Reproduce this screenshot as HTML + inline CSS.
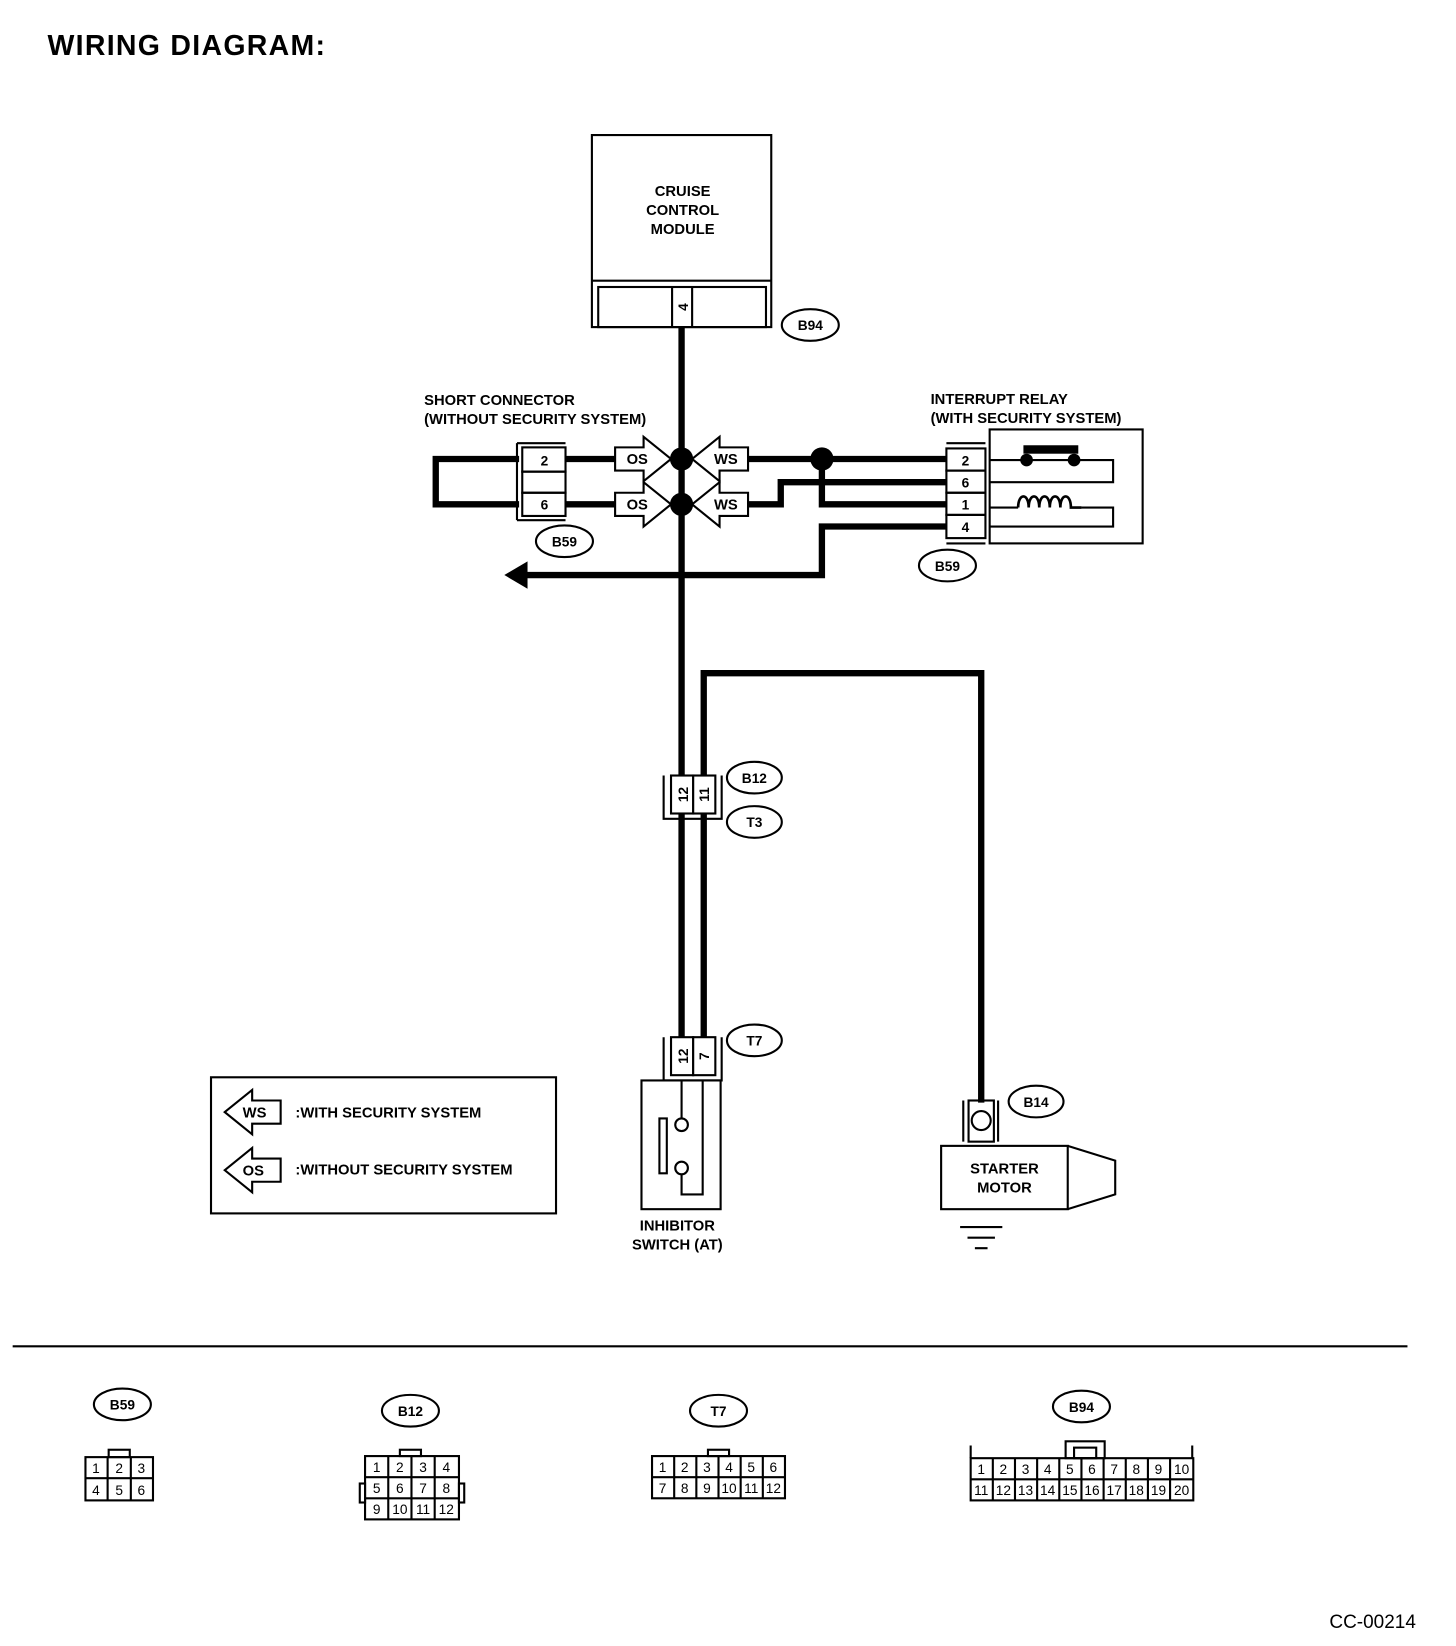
<!DOCTYPE html>
<html><head><style>html,body{margin:0;padding:0;background:#fff}svg{display:block}</style></head><body>
<svg width="1456" height="1646" viewBox="0 0 1380 1560" preserveAspectRatio="none" xmlns="http://www.w3.org/2000/svg" font-family="Liberation Sans, sans-serif">
<defs>
<g id="ar"><path d="M0,0 L26,-21 L26,-11 L53,-11 L53,11 L26,11 L26,21 Z" fill="#fff" stroke="#000" stroke-width="2"/></g>
</defs>
<text x="45" y="52" font-size="27" font-weight="bold" textLength="263">WIRING DIAGRAM:</text>
<g fill="none" stroke="#000" stroke-width="2">
<rect x="561" y="128" width="170" height="182"/>
<line x1="561" y1="266" x2="731" y2="266"/>
<rect x="567" y="272" width="159" height="38"/>
<line x1="637" y1="272" x2="637" y2="310"/><line x1="656" y1="272" x2="656" y2="310"/>
<ellipse cx="768" cy="308" rx="27" ry="15"/>
</g>
<g font-size="14" font-weight="bold" text-anchor="middle">
<text x="647" y="186">CRUISE</text><text x="647" y="204">CONTROL</text><text x="647" y="222">MODULE</text>
</g>
<text transform="translate(647,291) rotate(-90)" x="0" y="5" font-size="13" font-weight="bold" text-anchor="middle">4</text>
<text x="768" y="313" font-size="13" font-weight="bold" text-anchor="middle">B94</text>
<!-- wires -->
<g fill="none" stroke="#000" stroke-width="6">
<line x1="646" y1="310" x2="646" y2="985"/>
<polyline points="667,985 667,638 930,638 930,1045"/>
<polyline points="492,435 413,435 413,478 492,478"/>
<line x1="536" y1="435" x2="590" y2="435"/><line x1="536" y1="478" x2="590" y2="478"/>
<line x1="700" y1="435" x2="897" y2="435"/>
<polyline points="700,478 740,478 740,457 897,457"/>
<polyline points="779,435 779,478 897,478"/>
<polyline points="897,499 779,499 779,545 495,545"/>
</g>
<path d="M478,545 L500,532 L500,558 Z"/>
<circle cx="646" cy="435" r="11"/><circle cx="646" cy="478" r="11"/><circle cx="779" cy="435" r="11"/>
<!-- arrows -->
<use href="#ar" transform="translate(636,435) scale(-1,1)"/>
<use href="#ar" transform="translate(636,478) scale(-1,1)"/>
<use href="#ar" transform="translate(656,435)"/>
<use href="#ar" transform="translate(656,478)"/>
<g font-size="14" font-weight="bold" text-anchor="middle">
<text x="604" y="440">OS</text><text x="604" y="483">OS</text>
<text x="688" y="440">WS</text><text x="688" y="483">WS</text>
</g>
<!-- short connector -->
<g fill="none" stroke="#000" stroke-width="2">
<path d="M490,420 L490,493 M490,420 L536,420 M490,493 L536,493"/>
<rect x="495" y="424" width="41" height="23"/><rect x="495" y="447" width="41" height="20"/><rect x="495" y="467" width="41" height="22"/>
<ellipse cx="535" cy="513" rx="27" ry="15"/>
<ellipse cx="898" cy="536" rx="27" ry="15"/>
<path d="M934,420 L897,420 M934,515 L897,515"/>
<rect x="897" y="425" width="37" height="21"/><rect x="897" y="446" width="37" height="21"/><rect x="897" y="467" width="37" height="21"/><rect x="897" y="488" width="37" height="22"/>
<rect x="938" y="407" width="145" height="108"/>
<polyline points="938,436 1055,436 1055,457 938,457"/>
<path d="M938,481 L965,481 M1025,481 L1055,481 L1055,499 L938,499"/>
<path d="M965,481 c0,-14 10,-14 10,0 c0,-14 10,-14 10,0 c0,-14 10,-14 10,0 c0,-14 10,-14 10,0 c0,-14 10,-14 10,0 l10,0" stroke-width="2.5"/>
</g>
<rect x="970" y="422" width="52" height="8"/>
<circle cx="973" cy="436" r="6"/><circle cx="1018" cy="436" r="6"/>
<g font-size="13" font-weight="bold" text-anchor="middle">
<text x="516" y="441">2</text><text x="516" y="483">6</text>
<text x="915" y="441">2</text><text x="915" y="462">6</text><text x="915" y="483">1</text><text x="915" y="504">4</text>
<text x="535" y="518">B59</text><text x="898" y="541">B59</text>
</g>
<g font-size="14" font-weight="bold">
<text x="402" y="384">SHORT CONNECTOR</text><text x="402" y="402">(WITHOUT SECURITY SYSTEM)</text>
<text x="882" y="383">INTERRUPT RELAY</text><text x="882" y="401">(WITH SECURITY SYSTEM)</text>
</g>
<!-- B12/T3 -->
<g fill="none" stroke="#000" stroke-width="2">
<path d="M629,735 L629,776 L684,776 L684,735"/>
<rect x="636" y="735" width="21" height="36" fill="#fff"/><rect x="657" y="735" width="21" height="36" fill="#fff"/>
<ellipse cx="715" cy="737" rx="26" ry="15"/><ellipse cx="715" cy="779" rx="26" ry="15"/>
<path d="M629,983 L629,1024 L684,1024 L684,983"/>
<rect x="636" y="983" width="21" height="36" fill="#fff"/><rect x="657" y="983" width="21" height="36" fill="#fff"/>
<ellipse cx="715" cy="986" rx="26" ry="15"/>
<rect x="608" y="1024" width="75" height="122"/>
<line x1="646" y1="1024" x2="646" y2="1060"/>
<circle cx="646" cy="1066" r="6"/><circle cx="646" cy="1107" r="6"/>
<polyline points="646,1113 646,1132 666,1132 666,1024"/>
<rect x="625" y="1060" width="7" height="52"/>
<path d="M913,1082 L913,1043 M946,1043 L946,1082"/>
<rect x="918" y="1043" width="24" height="39"/>
<circle cx="930" cy="1062" r="9"/>
<ellipse cx="982" cy="1044" rx="26" ry="15"/>
<rect x="892" y="1086" width="120" height="60"/>
<polyline points="1012,1086 1057,1100 1057,1132 1012,1146"/>
<path d="M910,1163 L950,1163 M917,1173 L943,1173 M924,1183 L936,1183"/>
<rect x="200" y="1021" width="327" height="129"/>
</g>
<g font-size="13" font-weight="bold" text-anchor="middle">
<text transform="translate(647,753) rotate(-90)" x="0" y="5">12</text><text transform="translate(667,753) rotate(-90)" x="0" y="5">11</text>
<text transform="translate(647,1001) rotate(-90)" x="0" y="5">12</text><text transform="translate(667,1001) rotate(-90)" x="0" y="5">7</text>
<text x="715" y="742">B12</text><text x="715" y="784">T3</text><text x="715" y="991">T7</text><text x="982" y="1049">B14</text>
</g>
<g font-size="14" font-weight="bold" text-anchor="middle">
<text x="642" y="1166">INHIBITOR</text><text x="642" y="1184">SWITCH (AT)</text>
<text x="952" y="1112">STARTER</text><text x="952" y="1130">MOTOR</text>
</g>
<use href="#ar" transform="translate(213,1054)"/>
<use href="#ar" transform="translate(213,1109)"/>
<g font-size="14" font-weight="bold">
<text x="230" y="1059">WS</text><text x="230" y="1114">OS</text>
<text x="280" y="1059">:WITH SECURITY SYSTEM</text><text x="280" y="1113">:WITHOUT SECURITY SYSTEM</text>
</g>
<line x1="12" y1="1276" x2="1334" y2="1276" stroke="#000" stroke-width="2"/>
<!-- bottom connectors -->
<g fill="none" stroke="#000" stroke-width="2">
<ellipse cx="116" cy="1331" rx="27" ry="15"/><ellipse cx="389" cy="1337" rx="27" ry="15"/>
<ellipse cx="681" cy="1337" rx="27" ry="15"/><ellipse cx="1025" cy="1333" rx="27" ry="15"/>
<rect x="103" y="1374" width="20" height="7"/>
<rect x="81" y="1381" width="64" height="41"/><path d="M81,1401 H145 M102,1381 V1422 M124,1381 V1422"/>
<rect x="379" y="1374" width="20" height="6"/>
<rect x="346" y="1380" width="89" height="60"/><path d="M346,1400 H435 M346,1420 H435 M368,1380 V1440 M390,1380 V1440 M412,1380 V1440"/>
<rect x="341" y="1406" width="5" height="18"/><rect x="435" y="1406" width="5" height="18"/>
<rect x="671" y="1374" width="20" height="6"/>
<rect x="618" y="1380" width="126" height="40"/><path d="M618,1400 H744 M639,1380 V1420 M660,1380 V1420 M681,1380 V1420 M702,1380 V1420 M723,1380 V1420"/>
<rect x="1010" y="1366" width="37" height="16"/><rect x="1018" y="1372" width="21" height="10"/>
<path d="M920,1382 V1370 M1130,1382 V1370"/>
<rect x="920" y="1382" width="211" height="40"/><path d="M920,1402 H1131 M941,1382 V1422 M962,1382 V1422 M983,1382 V1422 M1004,1382 V1422 M1025,1382 V1422 M1046,1382 V1422 M1067,1382 V1422 M1088,1382 V1422 M1109,1382 V1422"/>
</g>
<g font-size="13" font-weight="bold" text-anchor="middle">
<text x="116" y="1336">B59</text><text x="389" y="1342">B12</text><text x="681" y="1342">T7</text><text x="1025" y="1338">B94</text>
</g>
<g font-size="13" text-anchor="middle">
<text x="91" y="1396">1</text><text x="113" y="1396">2</text><text x="134" y="1396">3</text>
<text x="91" y="1417">4</text><text x="113" y="1417">5</text><text x="134" y="1417">6</text>
<text x="357" y="1395">1</text><text x="379" y="1395">2</text><text x="401" y="1395">3</text><text x="423" y="1395">4</text>
<text x="357" y="1415">5</text><text x="379" y="1415">6</text><text x="401" y="1415">7</text><text x="423" y="1415">8</text>
<text x="357" y="1435">9</text><text x="379" y="1435">10</text><text x="401" y="1435">11</text><text x="423" y="1435">12</text>
<text x="628" y="1395">1</text><text x="649" y="1395">2</text><text x="670" y="1395">3</text><text x="691" y="1395">4</text><text x="712" y="1395">5</text><text x="733" y="1395">6</text>
<text x="628" y="1415">7</text><text x="649" y="1415">8</text><text x="670" y="1415">9</text><text x="691" y="1415">10</text><text x="712" y="1415">11</text><text x="733" y="1415">12</text>
</g>
<g font-size="13" text-anchor="middle">
<text x="930" y="1397">1</text><text x="951" y="1397">2</text><text x="972" y="1397">3</text><text x="993" y="1397">4</text><text x="1014" y="1397">5</text><text x="1035" y="1397">6</text><text x="1056" y="1397">7</text><text x="1077" y="1397">8</text><text x="1098" y="1397">9</text><text x="1120" y="1397">10</text>
<text x="930" y="1417">11</text><text x="951" y="1417">12</text><text x="972" y="1417">13</text><text x="993" y="1417">14</text><text x="1014" y="1417">15</text><text x="1035" y="1417">16</text><text x="1056" y="1417">17</text><text x="1077" y="1417">18</text><text x="1098" y="1417">19</text><text x="1120" y="1417">20</text>
</g>
<text x="1260" y="1543" font-size="18">CC-00214</text>
</svg>
</body></html>
